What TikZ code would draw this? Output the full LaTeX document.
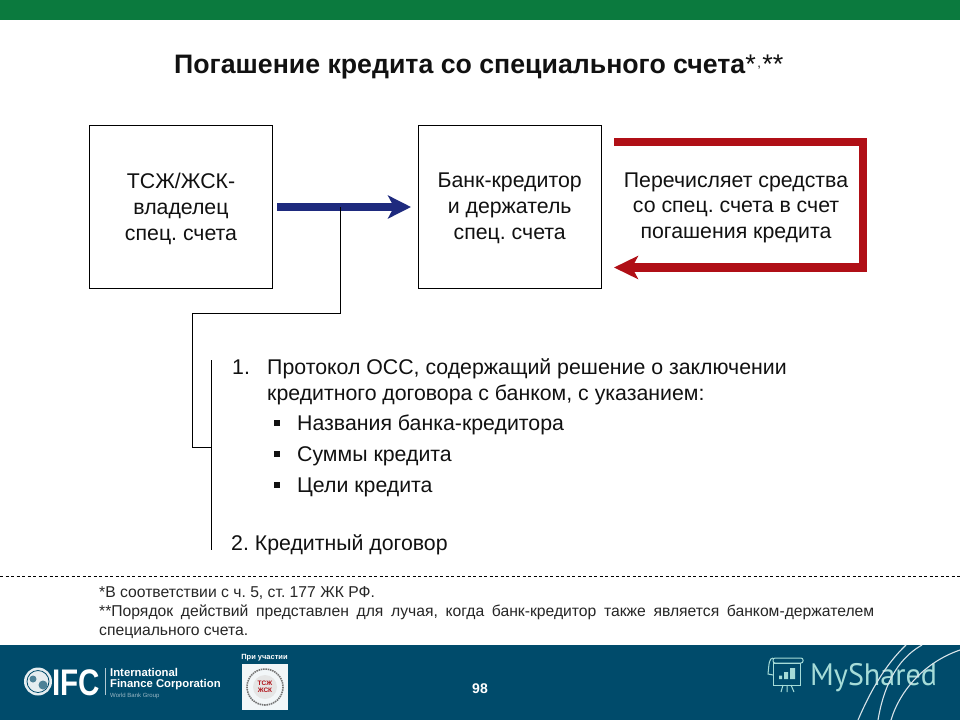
\documentclass[tikz,border=0pt]{standalone}
\usepackage{fontspec}
\setmainfont{Liberation Sans}
\newfontfamily\msfont{PT Sans}
\usetikzlibrary{arrows.meta}
\definecolor{topgreen}{HTML}{0B7A3E}
\definecolor{footblue}{HTML}{004B6B}
\definecolor{navyarrow}{HTML}{1E2A7E}
\definecolor{redarrow}{HTML}{B00F16}
\definecolor{msteal}{HTML}{A6DCD8}
\definecolor{txt}{HTML}{111111}
\tikzset{
  x=1pt,y=-1pt,
  boxnode/.style={draw=black,line width=1.1pt,fill=white,minimum width=183pt,minimum height=163pt,inner sep=0pt},
  boxtext/.style={inner sep=0pt,align=center,font=\fontsize{21.3}{26}\selectfont,text=txt},
  body/.style={anchor=base west,inner sep=0pt,font=\fontsize{21.3}{26}\selectfont,text=txt},
  foot/.style={anchor=base west,inner sep=0pt,font=\fontsize{15.7}{18}\selectfont,text=black!85},
  thin line/.style={draw=black,line width=1.1pt},
  bulletsq/.style={fill=txt,minimum size=5.5pt,inner sep=0pt},
  navy/.style={draw=navyarrow,line width=8pt,-{Stealth[length=23pt,width=23pt,inset=6pt]}},
  redline/.style={draw=redarrow,line width=8.5pt,-{Stealth[length=24pt,width=23pt,inset=6pt]}},
}
\begin{document}
\frenchspacing
\begin{tikzpicture}
\useasboundingbox (0,0) rectangle (960,720);
\fill[white] (0,0) rectangle (960,720);
\fill[topgreen] (0,0) rectangle (960,20);
\fill[footblue] (0,645) rectangle (960,720);
% title
\node[anchor=base west,inner sep=0pt,font=\fontsize{26.7}{30}\selectfont\bfseries,text=txt] (title) at (174,73) {Погашение кредита со специального счета{\mdseries\fontsize{27}{30}\selectfont*\kern1.5pt\raisebox{6pt}{\fontsize{13}{14}\selectfont,}\kern1.5pt**}};
% boxes
\node[boxnode] (owner) at (181,207) {};
\node[boxtext] (ownertext) at ([yshift=-1.5pt]owner.center) {ТСЖ/ЖСК-\\владелец\\спец. счета};
\node[boxnode] (bank) at (509.7,207) {};
\node[boxtext] (banktext) at ([yshift=-1.5pt]bank.center) {Банк-кредитор\\и держатель\\спец. счета};
\node[boxtext,font=\fontsize{21.3}{25.5}\selectfont] (transfer) at (736,207.5) {Перечисляет средства\\со спец. счета в счет\\погашения кредита};
% arrows
\coordinate (blueS) at (277,207);
\coordinate (blueE) at (411,207);
\coordinate (drop) at (340.5,207);
\coordinate (redS) at (614,142);
\coordinate (redC1) at (863,142);
\coordinate (redC2) at (863,267.5);
\coordinate (redE) at (614,267.5);
\draw[navy] (blueS) -- (blueE);
\draw[redarrow,line width=8.5pt,line join=miter] (redS) -- (redC1) -- (redC2) -- (640,267.5);
\draw[redline] (redC2) -- (redE);
% connector to bracket
\coordinate (bracketTop) at (211.5,360);
\coordinate (bracketBot) at (211.5,550);
\coordinate (bracketMid) at (211.5,447.5);
\draw[thin line] (drop) |- (192.5,313.5) |- (bracketMid);
\draw[thin line] (bracketTop) -- (bracketBot);
% list
\node[body] (n1) at (232,374) {1.};
\node[body] (l1) at (267,374) {Протокол ОСС, содержащий решение о заключении};
\node[body] (l2) at (267,400) {кредитного договора с банком, с указанием:};
\node[bulletsq] (b1) at (277,423) {};
\node[body] (i1) at (297,430) {Названия банка-кредитора};
\node[bulletsq] (b2) at (277,454) {};
\node[body] (i2) at (297,461) {Суммы кредита};
\node[bulletsq] (b3) at (277,485) {};
\node[body] (i3) at (297,492) {Цели кредита};
\node[body] (n2) at (231,550) {2. Кредитный договор};
% footnotes
\draw[black,line width=0.8pt,dash pattern=on 3pt off 2.5pt] (0,576.5) -- (960,576.5);
\node[foot] (f1) at (99,597) {*В соответствии с ч. 5, ст. 177 ЖК РФ.};
\node[foot] (f2) at (99,616) {\makebox[775pt][s]{**Порядок действий представлен для лучая, когда банк-кредитор также является банком-держателем}};
\node[foot] (f3) at (99,635) {специального счета.};
% IFC logo
\fill[white!90!footblue] (38,681.5) circle (14);
\draw[footblue,line width=0.8pt] (38,681.5) circle (11);
\fill[footblue!70!white] (33,679) circle (3.5) (43,685) circle (4.5);
\node[anchor=base west,inner sep=0pt,text=white,font=\fontsize{37}{37}\selectfont\bfseries] (ifc) at (52,695) {\scalebox{0.8}[1]{IFC}};
\fill[white!70!footblue] (104.5,668) rectangle (105.5,695);
\node[anchor=north west,inner sep=0pt,align=left,text=white,font=\fontsize{11.3}{10.5}\selectfont\bfseries] (ifcname) at (110,668.2) {International\\Finance Corporation\\{\fontsize{6}{7}\selectfont\mdseries\color{white!60!footblue}World Bank Group}};
% association logo
\node[anchor=base,inner sep=0pt,font=\fontsize{7.5}{8}\selectfont\bfseries,text=white] (pri) at (264.5,659) {При участии};
\fill[white!95!footblue] (242,664) rectangle (288,710);
\draw[black!55,line width=1.6pt,dash pattern=on 1.5pt off 0.8pt] (265,687) circle (18);
\fill[black!10] (265,687) circle (12);
\node[anchor=center,inner sep=0pt,align=center,font=\fontsize{6.5}{7}\selectfont\bfseries,text=redarrow] (tsj) at (265,687) {ТСЖ\\ЖСК};
% page number
\node[anchor=center,inner sep=0pt,font=\fontsize{14}{16}\selectfont\bfseries,text=white] (page) at (480,689) {98};
% MyShared
\begin{scope}[draw=msteal,line width=1pt]
\draw[rounded corners=2pt] (773,658) rectangle (803,663);
\draw (773,663) rectangle (800,685);
\draw (773,658) .. controls (769,658) and (769,664) .. (768,674) -- (773,675);
\draw (783,685) -- (781,692) (787,685) -- (787,692) (791,685) -- (794,692);
\end{scope}
\fill[msteal] (779,675.5) rectangle (782,679) (784,672) rectangle (788,679) (790,668) rectangle (795,679);
\node[anchor=base west,inner sep=0pt,font=\msfont\fontsize{31}{33}\selectfont,text=msteal] (ms) at (810,685) {\scalebox{0.97}[1]{MyShared}};
% curves
\begin{scope}[draw=white!85!footblue,line width=1.1pt]
\draw (858,720) .. controls (870,692) and (885,665) .. (906,645);
\draw (878,720) .. controls (883,690) and (895,660) .. (922,645);
\draw (891,720) .. controls (900,690) and (925,662) .. (960,650);
\end{scope}
\end{tikzpicture}
\end{document}
